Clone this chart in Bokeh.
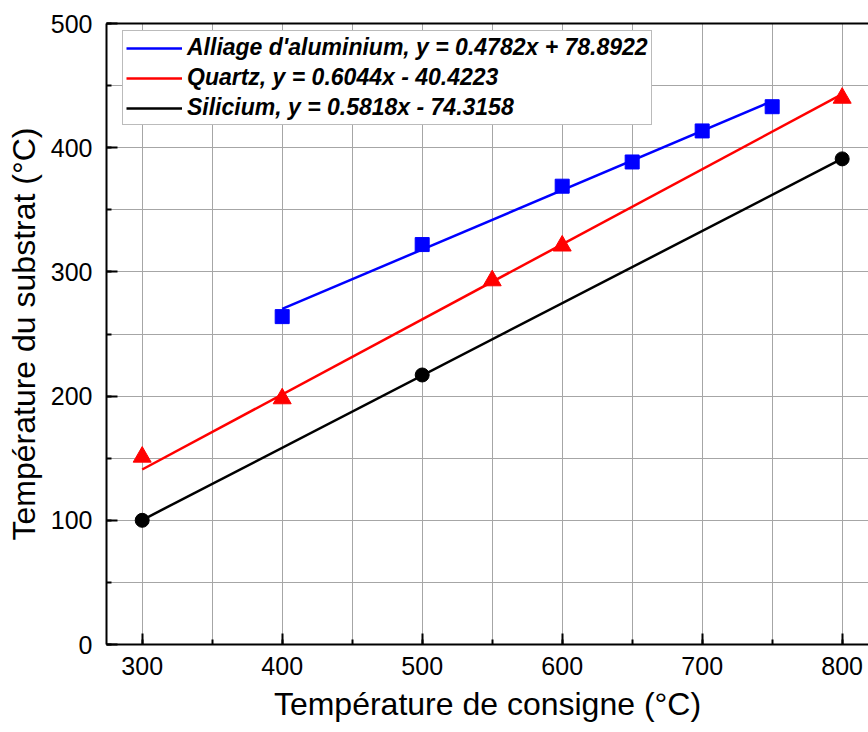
from bokeh.plotting import figure
from bokeh.models import (LinearAxis, SingleIntervalTicker, FixedTicker, Range1d,
                          Legend, LegendItem)
from bokeh.embed import file_html
from bokeh.resources import INLINE

# ---- data ----
alu_x = [400, 500, 600, 650, 700, 750]
alu_y = [264, 322, 369, 388.5, 413.5, 433]
alu_fit = (0.4782, 78.8922)

quartz_x = [300, 400, 550, 600, 800]
quartz_y = [151, 198, 293, 321, 440]
quartz_fit = (0.6044, -40.4223)

si_x = [300, 500, 800]
si_y = [100, 217, 391]
si_fit = (0.5818, -74.3158)

labels = ["Alliage d'aluminium, y = 0.4782x + 78.8922",
          "Quartz, y = 0.6044x - 40.4223",
          "Silicium, y = 0.5818x - 74.3158"]
colors = ["#0000ff", "#ff0000", "#000000"]

x_label = "Température de consigne (°C)"
y_label = "Température du substrat (°C)"

FONT = "Liberation Sans"

p = figure(width=868, height=732,
           x_range=Range1d(274.5, 818.8), y_range=Range1d(0, 500),
           output_backend="svg", toolbar_location=None,
           min_border_left=106, min_border_right=0,
           min_border_top=23, min_border_bottom=88)
p.outline_line_color = None
p.background_fill_color = "white"
p.border_fill_color = "white"

tx = SingleIntervalTicker(interval=100, num_minor_ticks=2)
ty = SingleIntervalTicker(interval=100, num_minor_ticks=2)
p.xaxis.ticker = tx
p.yaxis.ticker = ty
p.xgrid.ticker = tx
p.ygrid.ticker = ty

for g in (p.xgrid, p.ygrid):
    g.grid_line_color = "#a6a6a6"
    g.grid_line_width = 1
    g.minor_grid_line_color = "#a6a6a6"
    g.minor_grid_line_width = 1

for ax in (p.xaxis, p.yaxis):
    ax.axis_line_width = 2
    ax.axis_line_color = "black"
    ax.major_tick_line_width = 2
    ax.minor_tick_line_width = 2
    ax.major_tick_in = 11
    ax.major_tick_out = 0
    ax.minor_tick_in = 5
    ax.minor_tick_out = 0
    ax.major_label_text_font = FONT
    ax.major_label_text_font_size = "25px"
    ax.major_label_text_color = "black"
    ax.axis_label_text_font = FONT
    ax.axis_label_text_font_size = "32px"
    ax.axis_label_text_font_style = "normal"
    ax.axis_label_text_color = "black"

p.xaxis.axis_label = x_label
p.yaxis.axis_label = y_label
p.xaxis.major_label_standoff = 12
p.yaxis.major_label_standoff = 14
p.xaxis.axis_label_standoff = 8
p.yaxis.axis_label_standoff = 6

top = LinearAxis(ticker=FixedTicker(ticks=[]), axis_line_width=2,
                 axis_line_color="black", major_tick_line_color=None,
                 minor_tick_line_color=None)
p.add_layout(top, "above")

series = [
    (alu_x, alu_y, alu_fit, "square", 14),
    (quartz_x, quartz_y, quartz_fit, "triangle", 18),
    (si_x, si_y, si_fit, "circle", 14),
]

items = []
for (xs, ys, (a, b), marker, size), col, lab in zip(series, colors, labels):
    x0, x1 = min(xs), max(xs)
    r = p.line([x0, x1], [a * x0 + b, a * x1 + b], line_color=col, line_width=2.5)
    p.scatter(xs, ys, marker=marker, size=size, fill_color=col, line_color=col,
              line_width=1)
    items.append(LegendItem(label=lab, renderers=[r]))

legend = Legend(items=items, location=(16, 519), margin=0, padding=3,
                spacing=3, glyph_width=56, glyph_height=26, label_height=26,
                label_standoff=5,
                label_text_font=FONT, label_text_font_size="23px",
                label_text_font_style="bold italic", label_text_color="black",
                border_line_color="#777777", border_line_width=1,
                background_fill_color="white", background_fill_alpha=1)
p.add_layout(legend)

open("out.html", "w").write(file_html(p, INLINE))
